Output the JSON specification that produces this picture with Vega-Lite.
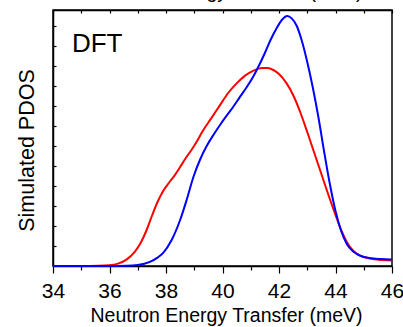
{
  "$schema": "https://vega.github.io/schema/vega-lite/v6.json",
  "autosize": "none",
  "width": 339,
  "height": 256,
  "padding": {"left": 53, "top": 10, "right": 11, "bottom": 61},
  "background": "white",
  "config": {
    "view": {"stroke": "black", "strokeWidth": 1.5},
    "axis": {"grid": false, "domainColor": "black", "tickColor": "black", "domainWidth": 1.5, "tickWidth": 1.2, "labelColor": "black", "titleColor": "black", "labelFont": "Liberation Sans", "titleFont": "Liberation Sans", "titleFontWeight": "normal"}
  },
  "datasets": {
    "red": [
      {"E": 34, "v": 0}, {"E": 35, "v": 0}, {"E": 35.6, "v": 0.01}, {"E": 36, "v": 0.04},
      {"E": 36.3, "v": 0.12}, {"E": 36.6, "v": 0.32}, {"E": 36.9, "v": 0.72}, {"E": 37.1, "v": 1.15},
      {"E": 37.3, "v": 1.75}, {"E": 37.5, "v": 2.5}, {"E": 37.7, "v": 3.2}, {"E": 37.9, "v": 3.75},
      {"E": 38.1, "v": 4.15}, {"E": 38.3, "v": 4.52}, {"E": 38.5, "v": 4.95}, {"E": 38.7, "v": 5.4},
      {"E": 38.9, "v": 5.8}, {"E": 39.1, "v": 6.25}, {"E": 39.3, "v": 6.75}, {"E": 39.6, "v": 7.38},
      {"E": 39.9, "v": 8.02}, {"E": 40.2, "v": 8.65}, {"E": 40.5, "v": 9.13}, {"E": 40.8, "v": 9.52},
      {"E": 41.1, "v": 9.77}, {"E": 41.4, "v": 9.9}, {"E": 41.6, "v": 9.9}, {"E": 41.8, "v": 9.8},
      {"E": 42.0, "v": 9.6}, {"E": 42.27, "v": 9.13}, {"E": 42.5, "v": 8.55}, {"E": 42.75, "v": 7.7},
      {"E": 43.0, "v": 6.7}, {"E": 43.25, "v": 5.65}, {"E": 43.5, "v": 4.6}, {"E": 43.75, "v": 3.55},
      {"E": 44.0, "v": 2.55}, {"E": 44.2, "v": 1.8}, {"E": 44.4, "v": 1.2}, {"E": 44.6, "v": 0.8},
      {"E": 44.8, "v": 0.57}, {"E": 45.0, "v": 0.45}, {"E": 45.4, "v": 0.34}, {"E": 46, "v": 0.27}
    ],
    "blue": [
      {"E": 34, "v": 0}, {"E": 36, "v": 0}, {"E": 36.6, "v": 0.01}, {"E": 37.0, "v": 0.05},
      {"E": 37.43, "v": 0.21}, {"E": 37.7, "v": 0.42}, {"E": 37.9, "v": 0.66}, {"E": 38.2, "v": 1.3},
      {"E": 38.5, "v": 2.3}, {"E": 38.73, "v": 3.3}, {"E": 38.97, "v": 4.45}, {"E": 39.2, "v": 5.3},
      {"E": 39.44, "v": 6.0}, {"E": 39.7, "v": 6.6}, {"E": 39.96, "v": 7.15}, {"E": 40.2, "v": 7.62},
      {"E": 40.4, "v": 8.0}, {"E": 40.6, "v": 8.42}, {"E": 40.86, "v": 8.95}, {"E": 41.1, "v": 9.5},
      {"E": 41.3, "v": 10.05}, {"E": 41.5, "v": 10.65}, {"E": 41.7, "v": 11.3}, {"E": 41.92, "v": 11.9},
      {"E": 42.1, "v": 12.3}, {"E": 42.29, "v": 12.5}, {"E": 42.45, "v": 12.38}, {"E": 42.63, "v": 12.0},
      {"E": 42.8, "v": 11.3}, {"E": 43.0, "v": 10.2}, {"E": 43.2, "v": 8.9}, {"E": 43.4, "v": 7.4},
      {"E": 43.6, "v": 5.7}, {"E": 43.8, "v": 4.1}, {"E": 44.0, "v": 2.75}, {"E": 44.2, "v": 1.75},
      {"E": 44.4, "v": 1.1}, {"E": 44.63, "v": 0.72}, {"E": 44.9, "v": 0.5}, {"E": 45.2, "v": 0.4},
      {"E": 45.6, "v": 0.35}, {"E": 46, "v": 0.33}
    ],
    "label": [{"E": 34.67, "v": 10.7, "text": "DFT"}]
  },
  "resolve": {"axis": {"x": "independent"}},
  "layer": [
    {
      "data": {"name": "red"},
      "mark": {"type": "line", "color": "#ff0000", "strokeWidth": 2, "interpolate": "monotone"},
      "encoding": {
        "x": {"field": "E", "type": "quantitative", "scale": {"domain": [34, 46], "nice": false, "zero": false},
          "axis": {"orient": "bottom", "values": [34, 36, 38, 40, 42, 44, 46], "tickSize": 7, "labelFontSize": 21, "labelBaseline": "alphabetic", "labelPadding": 24, "labelFlush": false,
            "title": "Neutron Energy Transfer (meV)", "titleFontSize": 19.5, "titleBaseline": "alphabetic", "titleAlign": "center", "titleX": 173, "titleY": 55, "titleAnchor": null}},
        "y": {"field": "v", "type": "quantitative", "scale": {"domain": [0, 12.8], "nice": false},
          "axis": {"values": [0, 1, 2, 3, 4, 5, 6, 7, 8, 9, 10, 11, 12], "tickSize": -3, "labels": false, "title": "Simulated PDOS", "titleFontSize": 21.5, "titleAngle": -90, "titleBaseline": "alphabetic", "titleAlign": "center", "titleX": -20, "titleY": 140}}
      }
    },
    {
      "data": {"name": "blue"},
      "mark": {"type": "line", "color": "#0000ff", "strokeWidth": 2, "interpolate": "monotone"},
      "encoding": {
        "x": {"field": "E", "type": "quantitative", "scale": {"domain": [34, 46], "nice": false, "zero": false},
          "axis": {"orient": "bottom", "values": [35, 37, 39, 41, 43, 45], "tickSize": 4, "labels": false, "domain": false, "title": null}},
        "y": {"field": "v", "type": "quantitative", "scale": {"domain": [0, 12.8], "nice": false},
          "axis": {"values": [0, 1, 2, 3, 4, 5, 6, 7, 8, 9, 10, 11, 12], "tickSize": -3, "labels": false, "title": "Simulated PDOS", "titleFontSize": 21.5, "titleAngle": -90, "titleBaseline": "alphabetic", "titleAlign": "center", "titleX": -20, "titleY": 140}}
      }
    },
    {
      "data": {"name": "label"},
      "mark": {"type": "text", "align": "left", "baseline": "alphabetic", "font": "Liberation Sans", "fontSize": 26, "color": "black"},
      "encoding": {
        "x": {"field": "E", "type": "quantitative", "scale": {"domain": [34, 46], "nice": false, "zero": false},
          "axis": {"orient": "top", "values": [34, 35, 36, 37, 38, 39, 40, 41, 42, 43, 44, 45, 46], "tickSize": -3, "labels": false, "domainWidth": 1.5,
            "title": "Neutron Energy Transfer (meV)", "titleFontSize": 19.5, "titleBaseline": "alphabetic", "titleAlign": "center", "titleX": 173, "titleY": -13, "titleAnchor": null}},
        "y": {"field": "v", "type": "quantitative", "scale": {"domain": [0, 12.8], "nice": false},
          "axis": {"values": [0, 1, 2, 3, 4, 5, 6, 7, 8, 9, 10, 11, 12], "tickSize": -3, "labels": false, "title": "Simulated PDOS", "titleFontSize": 21.5, "titleAngle": -90, "titleBaseline": "alphabetic", "titleAlign": "center", "titleX": -20, "titleY": 140}},
        "text": {"field": "text"}
      }
    }
  ]
}
